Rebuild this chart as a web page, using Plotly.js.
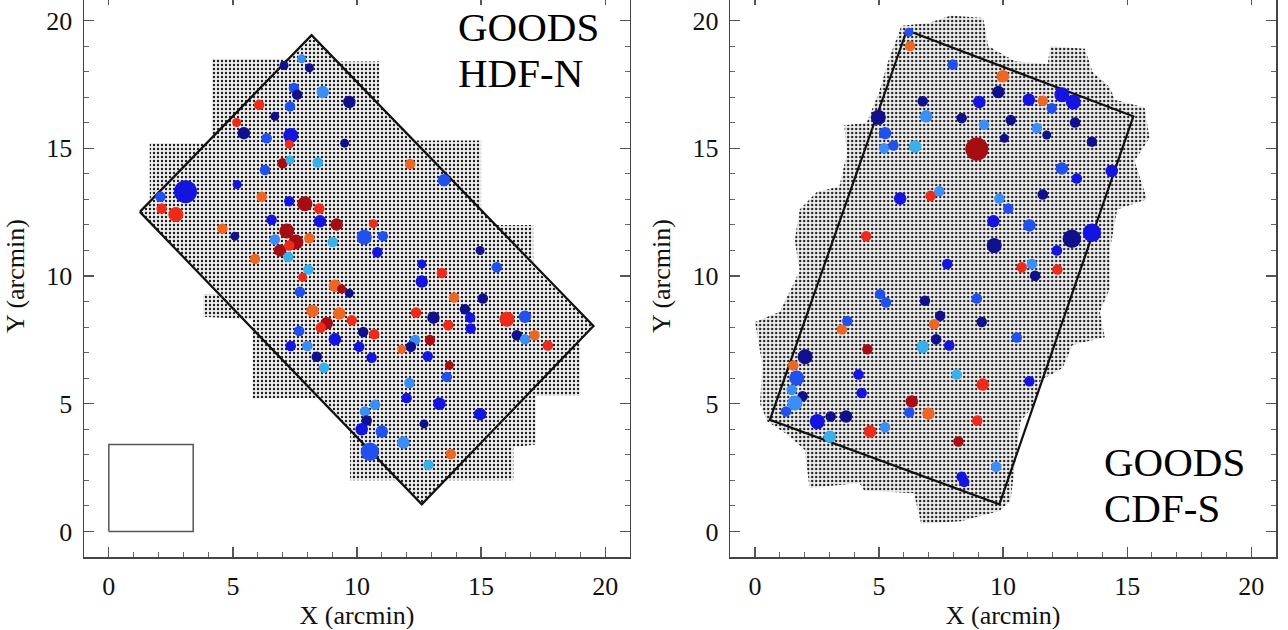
<!DOCTYPE html>
<html>
<head>
<meta charset="utf-8">
<script src="https://cdn.plot.ly/plotly-3.0.1.min.js"></script>
<style>
html,body{margin:0;padding:0;overflow:hidden;background:#fff;width:1288px;height:630px;}
#chart{position:absolute;left:0;top:-10px;width:1288px;height:640px;}
#chart svg text, #chart svg tspan{font-family:"Liberation Serif","Times New Roman",Times,serif !important;}
</style>
</head>
<body>
<div id="chart"></div>
<script>
// ---------- GOODS HDF-N (left panel) ----------
const hdfnFootX = [1.25,1.65,1.65,4.15,4.15,7.24,8.17,9.2,10.9,10.9,12.3,15.0,15.0,15.6,17.1,17.1,19.53,19.0,19.0,17.2,17.2,16.3,16.3,13.55,12.61,11.68,9.72,9.72,8.5,5.8,5.8,3.8,3.8,4.44,1.25];
const hdfnFootY = [12.51,12.91,15.2,15.2,18.5,18.5,19.43,18.4,18.4,16.7,15.3,15.3,12.6,12.0,12.0,10.5,8.04,7.5,5.3,5.3,3.4,3.3,2.0,2.0,1.06,2.0,2.0,3.99,5.22,5.2,8.3,8.4,9.3,9.3,12.51];
const hdfnBoxX = [1.25,8.17,19.53,12.61,1.25];
const hdfnBoxY = [12.51,19.43,8.04,1.06,12.51];
const scaleBoxX = [0,3.4,3.4,0,0];
const scaleBoxY = [0,0,3.4,3.4,0];

const hdfnX = [7.77,7.06,8.08,7.46,7.59,8.62,9.69,6.06,7.30,6.69,5.15,5.44,6.36,7.33,7.27,9.50,6.29,7.00,7.30,8.42,
  5.17,3.09,2.08,2.13,2.70,6.16,7.27,7.90,8.48,6.56,8.51,9.18,10.66,10.29,11.04,10.82,4.58,5.08,7.17,7.54,
  8.08,6.69,9.02,6.90,7.27,7.23,5.89,8.04,7.81,14.96,12.61,13.42,15.63,12.61,7.70,9.11,9.38,9.69,13.91,15.07,
  8.21,9.29,8.78,8.54,9.79,12.38,13.08,13.68,14.35,14.56,14.58,16.04,16.77,16.44,16.77,17.15,17.69,7.67,10.25,10.69,
  9.11,7.33,8.00,10.09,12.34,12.17,11.80,12.94,8.38,10.59,12.85,8.67,13.72,13.62,12.11,12.00,13.32,14.96,10.73,10.32,
  10.39,10.19,11.00,12.70,11.87,10.52,13.78,12.88,12.14,13.51];
const hdfnY = [18.50,18.24,18.15,17.36,17.10,17.20,16.81,16.70,16.64,16.25,16.01,15.59,15.39,15.50,15.16,15.20,14.15,14.41,14.54,14.44,
  13.58,13.30,13.10,12.64,12.41,13.10,12.93,12.83,12.64,12.20,12.14,12.02,12.05,11.52,11.56,10.93,11.85,11.56,11.76,11.33,
  11.48,11.43,11.33,11.00,11.19,10.74,10.67,10.25,9.95,11.00,10.47,10.12,10.34,9.78,9.38,9.62,9.49,9.32,9.16,9.12,
  8.63,8.53,8.15,7.98,8.27,8.57,8.37,8.07,8.70,8.37,7.94,8.31,8.40,7.68,7.52,7.68,7.28,7.85,7.81,7.72,
  7.52,7.26,7.26,7.23,7.49,7.23,7.13,7.49,6.84,6.80,6.86,6.41,6.50,6.05,5.81,5.22,5.00,4.59,4.96,4.70,
  4.34,4.00,3.91,4.21,3.48,3.12,3.03,2.60,14.38,13.75];
const hdfnSizeClass = [1,1,1,2,2,3,3,2,2,1,1,3,2,4,1,1,2,2,1,2,
  1,6,2,2,4,2,2,4,2,2,3,3,1,4,2,2,2,1,4,4,
  2,2,2,3,2,2,2,2,1,1,1,2,2,3,2,3,1,1,2,2,
  3,3,3,2,2,2,3,2,2,2,2,4,3,2,2,2,2,2,2,2,
  3,2,2,2,2,2,1,2,2,2,2,2,1,2,2,2,3,3,2,2,
  2,3,3,1,3,5,2,2,2,3];
const hdfnColorClass = ['lb','db','db','mb','db','lb','db','r','mb','db','r','db','mb','b','r','db','mb','dr','c','c',
  'b','b','mb','r','r','o','b','dr','r','b','b','dr','r','mb','mb','b','o','db','dr','dr',
  'o','lb','c','dr','r','c','o','c','r','db','b','r','mb','b','mb','o','dr','db','o','db',
  'o','o','dr','r','r','r','db','r','db','b','b','r','mb','db','lb','o','r','mb','db','r',
  'b','b','lb','b','lb','db','o','dr','db','b','b','c','dr','mb','lb','b','b','b','lb','lb',
  'db','b','mb','db','lb','mb','o','c','o','mb'];

// ---------- GOODS CDF-S (right panel) ----------
const cdfsFootX = [5.9,7.0,7.9,9.2,9.4,10.5,11.8,11.9,13.3,13.6,14.3,14.5,15.7,15.9,15.3,15.8,14.6,14.3,14.3,13.9,14.1,12.8,12.4,11.5,11.3,10.7,10.3,9.85,8.3,6.7,6.4,4.4,4.2,2.2,2.0,1.3,0.5,0.2,0.3,0.1,0.0,1.0,1.4,1.8,1.6,1.8,2.5,3.4,3.7,3.6,4.5,5.0,5.4,5.9];
const cdfsFootY = [19.8,19.9,20.2,20.1,19.0,18.4,18.3,19.0,18.9,18.0,17.4,16.9,16.6,15.4,14.5,13.0,12.6,11.0,9.5,8.6,7.6,7.3,6.4,5.9,5.0,4.3,1.2,0.8,0.4,0.3,1.5,1.6,1.9,1.7,3.2,3.8,4.3,5.0,6.5,7.6,8.2,8.6,9.4,10.2,11.4,12.6,13.3,13.5,14.8,15.9,16.0,17.2,18.5,19.8];
const cdfsBoxX = [6.12,15.25,9.85,0.60,6.12];
const cdfsBoxY = [19.62,16.25,1.06,4.37,19.62];

const cdfsX = [6.25,6.20,7.97,9.99,9.81,9.04,6.76,11.04,11.60,12.37,12.83,11.96,4.97,6.90,8.33,9.23,10.31,12.90,5.24,11.36,
  11.76,10.05,13.58,5.20,5.58,6.45,8.94,12.37,12.97,14.38,5.85,7.08,7.43,11.60,9.85,10.21,9.61,11.06,4.48,12.77,
  13.58,9.64,12.17,7.75,10.75,11.16,11.29,12.19,8.94,5.04,5.28,6.85,7.46,9.14,7.22,3.72,3.50,7.30,7.83,6.76,
  10.55,4.53,2.02,1.54,1.68,4.17,8.13,9.18,11.06,1.48,1.92,4.30,1.25,1.61,6.32,6.22,6.99,8.96,2.51,3.05,
  3.67,4.64,5.24,3.02,8.20,9.72,8.33,8.43];
const cdfsY = [19.00,19.54,18.28,17.82,17.20,16.81,16.84,16.90,16.86,17.10,16.81,16.57,16.21,16.25,16.18,15.92,16.11,16.01,15.59,15.79,
  15.52,15.39,15.26,15.00,15.11,15.07,14.97,14.21,13.82,14.11,13.03,13.14,13.32,13.19,13.03,12.64,12.14,11.98,11.56,11.46,
  11.69,11.19,11.00,10.47,10.34,10.47,10.01,10.25,9.12,9.29,8.96,9.03,8.44,8.20,8.11,8.24,7.91,7.52,7.28,7.23,
  7.59,7.13,6.84,6.50,6.01,6.14,6.14,5.75,5.88,5.55,5.29,5.42,4.70,5.03,5.09,4.66,4.61,4.34,4.30,4.50,
  4.50,3.91,4.08,3.71,3.52,2.53,2.14,1.94];
const cdfsSizeClass = [2,1,2,3,3,3,2,3,2,4,4,2,4,3,2,2,2,2,3,2,
  1,1,2,2,2,3,6,3,2,3,3,2,2,2,2,2,3,3,2,5,
  5,4,2,2,2,2,2,2,2,2,2,2,2,2,2,2,2,2,2,3,
  2,2,4,2,4,2,2,3,2,2,2,2,2,4,3,2,3,2,4,2,
  3,3,2,3,2,2,2,2];
const cdfsColorClass = ['o','mb','mb','o','db','b','db','b','o','b','b','mb','db','lb','db','lb','db','db','mb','lb',
  'db','db','db','lb','mb','c','dr','mb','b','b','b','r','lb','db','lb','mb','b','mb','r','db',
  'b','db','b','b','r','lb','db','r','mb','mb','mb','db','db','db','o','mb','o','db','b','c',
  'mb','dr','db','o','mb','b','c','r','b','lb','db','b','mb','lb','dr','mb','o','r','b','db',
  'db','r','lb','c','dr','lb','b','b'];

// ---------- styling maps ----------
const colorMap = {db:'#10108c', b:'#1414e0', mb:'#2050ee', lb:'#3a8ef5', c:'#38b0ea', o:'#ee6624', r:'#ee2a1a', dr:'#a50d12'};
const sizeMap = {1:9, 2:10.5, 3:12.5, 4:15, 5:18.5, 6:23};
const FONT = 'Liberation Serif';

function footprint(xs, ys, xa, ya){
  return [{type:'scatter', mode:'lines', x:xs, y:ys, xaxis:xa, yaxis:ya, fill:'toself',
    line:{width:0, color:'rgba(0,0,0,0)'}, hoverinfo:'skip', showlegend:false,
    fillcolor:'#eeeeee', fillpattern:{shape:'.', size:4, solidity:0.28, fgcolor:'#1c1c1c', bgcolor:'#eeeeee', fillmode:'replace'}}];
}
function outline(xs, ys, xa, ya, color, width){
  return {type:'scatter', mode:'lines', x:xs, y:ys, xaxis:xa, yaxis:ya, line:{color:color, width:width}, hoverinfo:'skip', showlegend:false};
}
function sources(xs, ys, sc, cc, xa, ya){
  return {type:'scatter', mode:'markers', x:xs, y:ys, xaxis:xa, yaxis:ya,
    marker:{size:sc.map(s=>sizeMap[s]), color:cc.map(c=>colorMap[c]), opacity:1, line:{width:0}},
    showlegend:false};
}

const data = [].concat(
  footprint(hdfnFootX, hdfnFootY, 'x', 'y'),
  [outline(hdfnBoxX, hdfnBoxY, 'x', 'y', '#111', 2.2),
   outline(scaleBoxX, scaleBoxY, 'x', 'y', '#555', 1.5),
   sources(hdfnX, hdfnY, hdfnSizeClass, hdfnColorClass, 'x', 'y')],
  footprint(cdfsFootX, cdfsFootY, 'x2', 'y2'),
  [outline(cdfsBoxX, cdfsBoxY, 'x2', 'y2', '#111', 2.2),
   sources(cdfsX, cdfsY, cdfsSizeClass, cdfsColorClass, 'x2', 'y2')]
);

function axis(extra){
  return Object.assign({
    range:[-1,21], tick0:0, dtick:5, ticks:'inside', ticklen:10, tickwidth:1.2, tickcolor:'#555',
    showline:true, linecolor:'#444', linewidth:1.5, mirror:'ticks', showgrid:false, zeroline:false,
    minor:{dtick:1, tick0:0, ticks:'inside', ticklen:5, tickwidth:1, tickcolor:'#666', showgrid:false},
    tickfont:{family:FONT, size:26, color:'#111'}, ticklabelstandoff:5
  }, extra);
}
const titleFont = {family:FONT, size:26, color:'#111'};
const labelFont = {family:FONT, size:35.4, color:'#000'};
const big = s => '<span style="font-size:41px">' + s + '</span>';

const layout = {
  width:1288, height:640,
  margin:{l:84, r:12, t:5, b:73},
  paper_bgcolor:'#fff', plot_bgcolor:'#fff',
  font:{family:FONT},
  showlegend:false,
  xaxis: axis({domain:[0,0.45805], anchor:'y', title:{text:'X (arcmin)', font:titleFont, standoff:6}}),
  yaxis: axis({domain:[0,1], anchor:'x', title:{text:'Y (arcmin)', font:titleFont, standoff:14}}),
  xaxis2: axis({domain:[0.54211,1], anchor:'y2', title:{text:'X (arcmin)', font:titleFont, standoff:6}}),
  yaxis2: axis({domain:[0,1], anchor:'x2', title:{text:'Y (arcmin)', font:titleFont, standoff:14}}),
  annotations:[
    {xref:'x', yref:'y', x:14.0, y:18.83, text:big('GOODS') + '<br>' + big('HDF-N'), showarrow:false, xanchor:'left', yanchor:'middle', align:'left', font:labelFont},
    {xref:'x2', yref:'y2', x:14.0, y:1.82, text:big('GOODS') + '<br>' + big('CDF-S'), showarrow:false, xanchor:'left', yanchor:'middle', align:'left', font:labelFont}
  ]
};

Plotly.newPlot('chart', data, layout, {displayModeBar:false, staticPlot:true});
</script>
</body>
</html>
